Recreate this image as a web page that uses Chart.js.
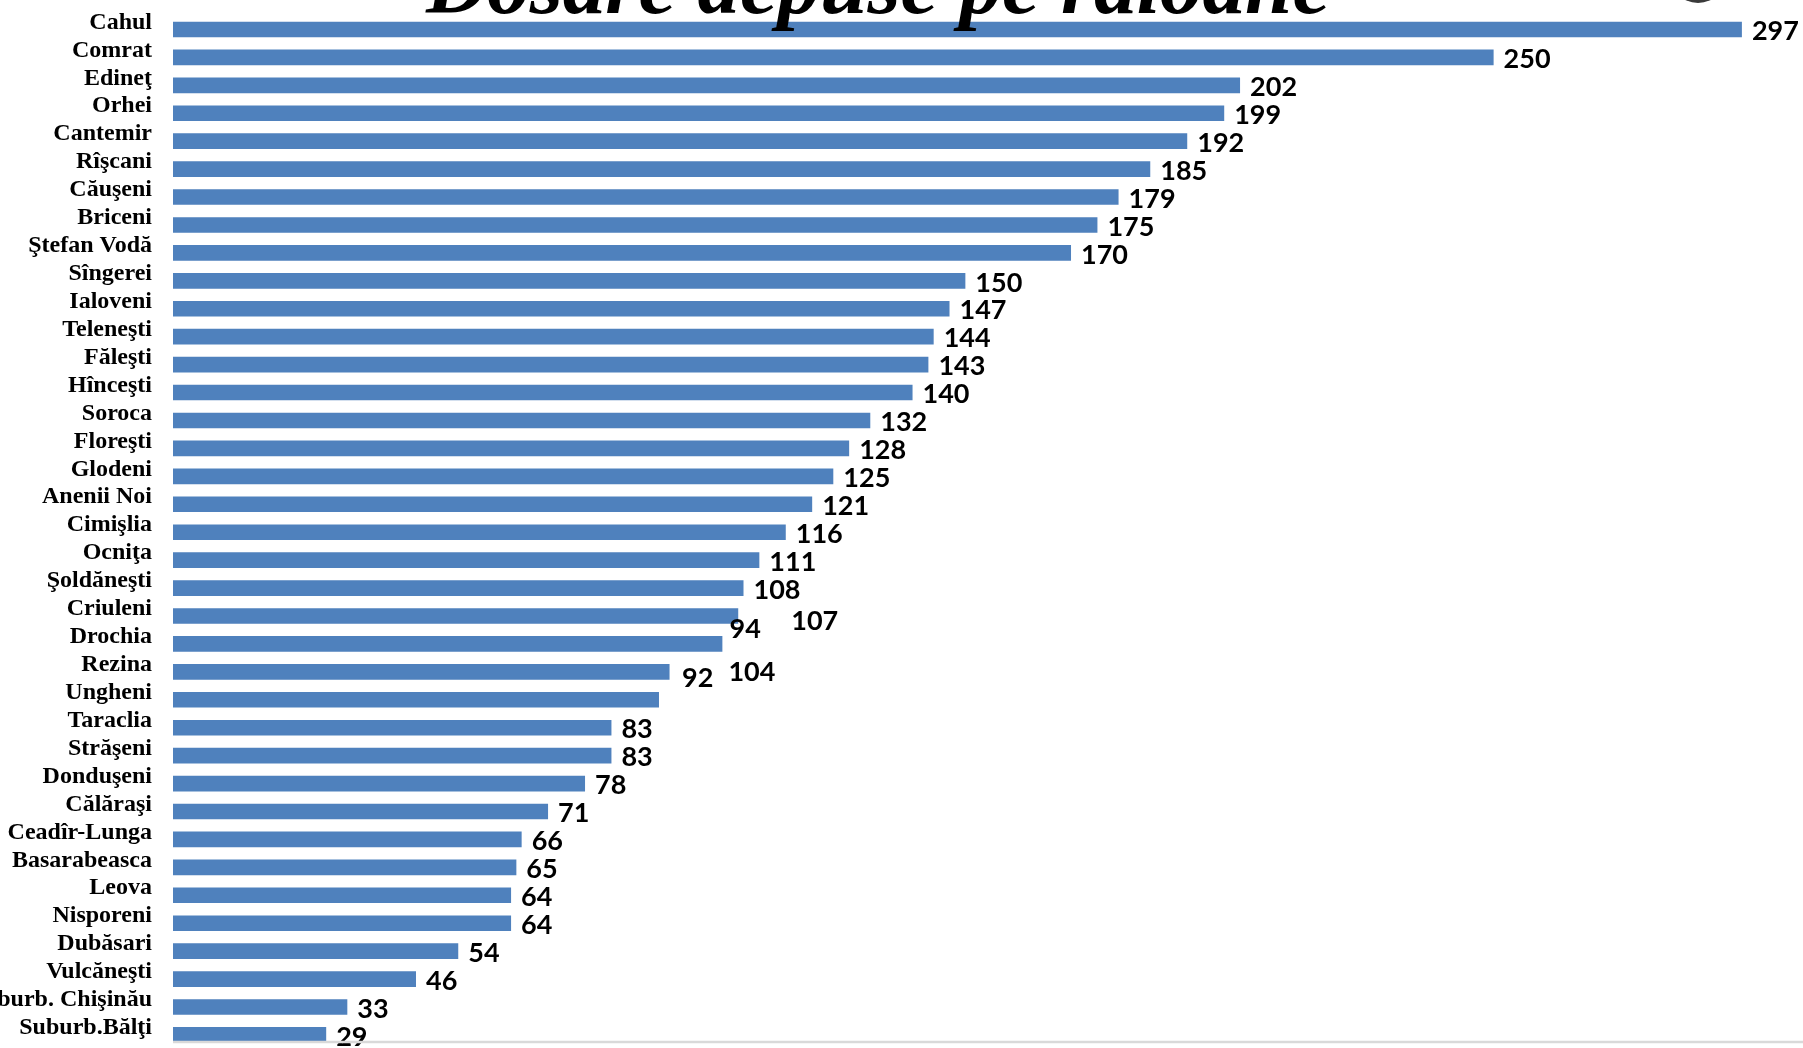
<!DOCTYPE html>
<html>
<head>
<meta charset="utf-8">
<script src="https://cdn.jsdelivr.net/npm/chart.js@4.4.1/dist/chart.umd.min.js"></script>
<style>
  html, body { margin: 0; padding: 0; background: #ffffff; overflow: hidden; width: 1803px; height: 1048px; }
  #wrap { position: absolute; left: 0; top: 0; width: 1803px; height: 1060px; }
  #logo { position: absolute; left: 1668px; top: -60px; width: 60px; height: 63px; border-radius: 50%; background: #3a3a3a; }
</style>
</head>
<body>
<div id="wrap"><canvas id="c"></canvas></div>
<div id="logo"></div>
<script>
const titleText = 'Dosare depuse pe raioane';
const categories = [
  'Cahul', 'Comrat', 'Edineţ', 'Orhei', 'Cantemir', 'Rîşcani', 'Căuşeni', 'Briceni',
  'Ştefan Vodă', 'Sîngerei', 'Ialoveni', 'Teleneşti', 'Făleşti', 'Hînceşti', 'Soroca',
  'Floreşti', 'Glodeni', 'Anenii Noi', 'Cimişlia', 'Ocniţa', 'Şoldăneşti', 'Criuleni',
  'Drochia', 'Rezina', 'Ungheni', 'Taraclia', 'Străşeni', 'Donduşeni', 'Călăraşi',
  'Ceadîr-Lunga', 'Basarabeasca', 'Leova', 'Nisporeni', 'Dubăsari', 'Vulcăneşti',
  'Suburb. Chişinău', 'Suburb.Bălţi'
];
const dosare = [
  297, 250, 202, 199, 192, 185, 179, 175,
  170, 150, 147, 144, 143, 140, 132,
  128, 125, 121, 116, 111, 108, 107,
  104, 94, 92, 83, 83, 78, 71,
  66, 65, 64, 64, 54, 46,
  33, 29
];

const valueLabels = {
  id: 'valueLabels',
  afterDatasetsDraw(chart, args, opts) {
    const ctx = chart.ctx;
    const meta = chart.getDatasetMeta(0);
    ctx.save();
    ctx.font = opts.font;
    ctx.fillStyle = opts.color;
    ctx.textAlign = 'left';
    ctx.textBaseline = 'middle';
    meta.data.forEach((bar, i) => {
      const shift = opts.shift[chart.data.labels[i]] || [0, 0];
      ctx.fillText(String(chart.data.datasets[0].data[i]), bar.x + opts.gap + shift[0], bar.y + opts.dy + shift[1]);
    });
    ctx.restore();
  }
};

const extras = {
  id: 'extras',
  afterDraw(chart, args, opts) {
    const ctx = chart.ctx;
    const a = chart.chartArea;
    ctx.save();
    ctx.strokeStyle = '#d9d9d9';
    ctx.lineWidth = 2.5;
    ctx.beginPath();
    ctx.moveTo(a.left, a.bottom - 6.8);
    ctx.lineTo(chart.width, a.bottom - 6.8);
    ctx.stroke();
    ctx.fillStyle = '#000000';
    ctx.font = 'italic bold 85px "Liberation Serif", "Times New Roman", serif';
    ctx.textAlign = 'center';
    ctx.textBaseline = 'alphabetic';
    ctx.fillText(titleText, 878, 13);
    ctx.restore();
  }
};

new Chart(document.getElementById('c'), {
  type: 'bar',
  data: {
    labels: categories,
    datasets: [{
      data: dosare,
      backgroundColor: '#4f81bd',
      borderWidth: 0,
      barPercentage: 0.56,
      categoryPercentage: 1.0
    }]
  },
  options: {
    indexAxis: 'y',
    responsive: true,
    maintainAspectRatio: false,
    animation: false,
    layout: { padding: { top: 15.5, bottom: 11.1, left: 0, right: 3 } },
    plugins: {
      legend: { display: false },
      tooltip: { enabled: false },
      title: { display: false },
      valueLabels: {
        font: 'bold 27px Lato, Carlito, Calibri, sans-serif',
        color: '#000000',
        gap: 10,
        dy: 2,
        shift: { 'Criuleni': [43, 3], 'Drochia': [-4, 26], 'Rezina': [50, -45], 'Ungheni': [13, -23] }
      }
    },
    scales: {
      x: { display: false, min: 0, max: 308 },
      y: {
        afterFit(scale) { scale.width = 173; scale.paddingTop = 0; scale.paddingBottom = 0; },
        grid: { display: false, drawTicks: false },
        border: { display: false },
        ticks: {
          autoSkip: false,
          color: '#000000',
          padding: 21,
          labelOffset: -7,
          font: { family: '"Liberation Serif", "Times New Roman", serif', weight: 'bold', size: 24 }
        }
      }
    }
  },
  plugins: [valueLabels, extras]
});
</script>
</body>
</html>
